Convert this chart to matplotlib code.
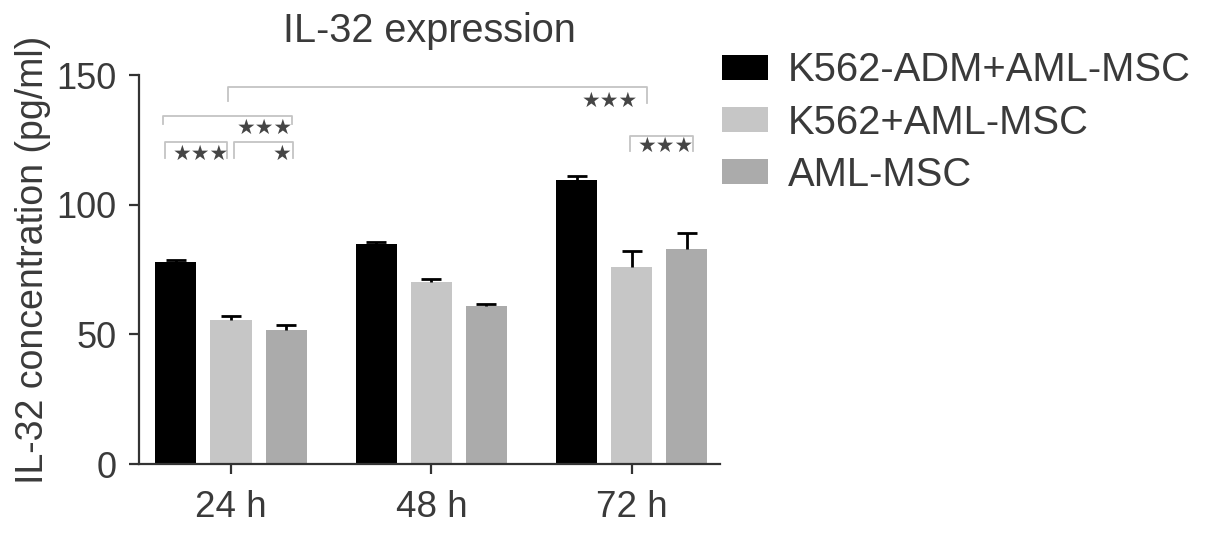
import matplotlib
matplotlib.use("Agg")
import matplotlib.pyplot as plt
import numpy as np

plt.rcParams['font.family'] = ['Liberation Sans', 'DejaVu Sans']

# ---- data ----
categories = ["24 h", "48 h", "72 h"]
series_names = ["K562-ADM+AML-MSC", "K562+AML-MSC", "AML-MSC"]
k562adm_msc = [78.0, 84.8, 109.5]
k562_msc = [55.5, 70.0, 76.0]
aml_msc = [51.5, 60.8, 83.0]
k562adm_msc_err = [0.7, 1.0, 1.5]
k562_msc_err = [1.5, 1.4, 6.3]
aml_msc_err = [2.0, 0.8, 6.0]
yticks = [0, 50, 100, 150]

values = [k562adm_msc, k562_msc, aml_msc]
errors = [k562adm_msc_err, k562_msc_err, aml_msc_err]
colors = ["#000000", "#c6c6c6", "#ababab"]

# significance brackets: (x_left, x_right, y_top, left_leg_bottom, right_leg_bottom, label, label_x, label_y)
brackets = [
    (-0.015, 2.075, 145.4, 140.0, 139.3, "\u2605\u2605\u2605", 1.89, 140.0),
    (-0.339, 0.304, 134.2, 131.0, 131.0, "\u2605\u2605\u2605", 0.17, 129.6),
    (-0.329, -0.02, 124.3, 118.0, 118.0, "\u2605\u2605\u2605", -0.15, 119.6),
    (0.015, 0.309, 124.3, 118.0, 118.0, "\u2605", 0.254, 119.6),
    (1.99, 2.304, 126.5, 120.8, 120.8, "\u2605\u2605\u2605", 2.17, 122.7),
]

text_color = "#3a3a3a"

fig = plt.figure(figsize=(12.05, 5.36), dpi=100)
ax = fig.add_axes([0.1154, 0.1343, 0.482, 0.7257])

x = np.arange(len(categories))
width = 0.205
offsets = [-0.275, 0.0, 0.275]
for vals, errs, col, off, name in zip(values, errors, colors, offsets, series_names):
    ax.bar(x + off, vals, width, color=col, label=name, zorder=2)
    eb = ax.errorbar(x + off, vals, yerr=[np.zeros(len(errs)), errs], fmt='none',
                     ecolor='black', elinewidth=2.0, capsize=7, capthick=2.0, zorder=3)
    # keep only the upper caps
    caps = eb[1]
    if len(caps) == 2:
        lo = caps[0] if np.mean(caps[0].get_ydata()) < np.mean(caps[1].get_ydata()) else caps[1]
        lo.set_visible(False)

ax.set_xlim(-0.459, 2.44)
ax.set_ylim(0, 150)
ax.set_yticks(yticks)
ax.set_xticks(x)
ax.set_xticklabels(categories)
for s in ["top", "right"]:
    ax.spines[s].set_visible(False)
for s in ["left", "bottom"]:
    ax.spines[s].set_linewidth(1.6)
    ax.spines[s].set_color("#333333")
ax.tick_params(axis='both', direction='out', length=7, width=1.6, color="#333333",
               labelcolor=text_color)
ax.tick_params(axis='y', labelsize=26, pad=9.5)
ax.tick_params(axis='x', labelsize=26.5, pad=12)
ax.set_ylabel("IL-32 concentration (pg/ml)", fontsize=27, color=text_color)
ax.yaxis.set_label_coords(-0.152, 0.524)
ax.set_title("IL-32 expression", fontsize=28.5, color=text_color, pad=24)

for (x1, x2, yt, yl, yr, lab, lx, ly) in brackets:
    ax.plot([x1, x1, x2, x2], [yl, yt, yt, yr], color="#c4c4c4", lw=1.3,
            clip_on=False, zorder=1)
    ax.text(lx, ly, lab, ha='center', va='center', fontsize=15, color="#454545",
            family='DejaVu Sans', clip_on=False)

leg = ax.legend(loc='upper left', bbox_to_anchor=(1.003, 1.061), frameon=False,
                fontsize=28.8, handlelength=1.15, handleheight=0.575,
                handletextpad=0.5, labelspacing=0.355, borderaxespad=0,
                borderpad=0)
for t in leg.get_texts():
    t.set_color(text_color)

fig.savefig("out.png", dpi=100)
